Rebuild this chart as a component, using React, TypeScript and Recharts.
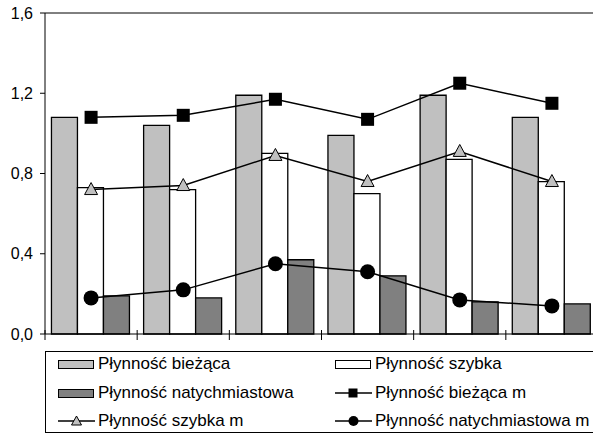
import React from 'react';
import { ComposedChart, Bar, Line, XAxis, YAxis, Legend, ReferenceLine } from 'recharts';

// ---- data ----
const categories = ['1', '2', '3', '4', '5', '6'];
const biezaca = [1.08, 1.04, 1.19, 0.99, 1.19, 1.08];
const szybka = [0.73, 0.72, 0.9, 0.7, 0.87, 0.76];
const natychmiastowa = [0.19, 0.18, 0.37, 0.29, 0.16, 0.15];
const biezacaM = [1.08, 1.09, 1.17, 1.07, 1.25, 1.15];
const szybkaM = [0.72, 0.74, 0.89, 0.76, 0.91, 0.76];
const natychmiastowaM = [0.18, 0.22, 0.35, 0.31, 0.17, 0.14];
const yTicks = [0, 0.4, 0.8, 1.2, 1.6];
const legendOrder = ['b', 's', 'n', 'bm', 'sm', 'nm'];

const data = categories.map((c, i) => ({
  name: c,
  b: biezaca[i],
  s: szybka[i],
  n: natychmiastowa[i],
  bm: biezacaM[i],
  sm: szybkaM[i],
  nm: natychmiastowaM[i],
}));

const FONT = '"Liberation Sans", Arial, sans-serif';
const LIGHT = '#C0C0C0';
const DARK = '#808080';

const CHART_W = 600;
const CHART_H = 435;
const MARGIN = { top: 13, right: 2, bottom: 2, left: 0 };
const Y_W = 45;
const BAND = (CHART_W - MARGIN.left - MARGIN.right - Y_W) / categories.length;

const fmt = (v: number) => v.toFixed(1).replace('.', ',');

const BoundaryTick = (props: any) => {
  const { x, y, payload } = props;
  const half = payload && typeof payload.offset === 'number' && payload.offset > 0 ? payload.offset : BAND / 2;
  const bx = x - half;
  return <line x1={bx} x2={bx} y1={y - 4} y2={y + 6} stroke="#000" strokeWidth={1} />;
};

const SquareDot = (props: any) => {
  const { cx, cy, index } = props;
  if (cx == null || cy == null) return <g key={`sq-${index}`} />;
  return <rect key={`sq-${index}`} x={cx - 6.5} y={cy - 6.5} width={13} height={13} fill="#000" />;
};
const TriangleDot = (props: any) => {
  const { cx, cy, index } = props;
  if (cx == null || cy == null) return <g key={`tr-${index}`} />;
  const pts = `${cx},${cy - 7} ${cx - 6.5},${cy + 5} ${cx + 6.5},${cy + 5}`;
  return <polygon key={`tr-${index}`} points={pts} fill={LIGHT} stroke="#000" strokeWidth={1} />;
};
const CircleDot = (props: any) => {
  const { cx, cy, index } = props;
  if (cx == null || cy == null) return <g key={`ci-${index}`} />;
  return <circle key={`ci-${index}`} cx={cx} cy={cy} r={7.5} fill="#000" />;
};

const LegendIcon = ({ kind }: { kind: string }) => {
  if (kind === 'b' || kind === 's' || kind === 'n') {
    const fill = kind === 'b' ? LIGHT : kind === 's' ? '#FFFFFF' : DARK;
    return (
      <svg width={37} height={12} style={{ display: 'block' }}>
        <rect x={0.5} y={2.5} width={35} height={8} fill={fill} stroke="#000" strokeWidth={1} />
      </svg>
    );
  }
  return (
    <svg width={37} height={14} style={{ display: 'block' }}>
      <line x1={0} x2={37} y1={7} y2={7} stroke="#000" strokeWidth={1.3} />
      {kind === 'bm' && <rect x={13.5} y={2.5} width={9} height={9} fill="#000" />}
      {kind === 'sm' && <polygon points="18.5,2 13.5,11 23.5,11" fill={LIGHT} stroke="#000" strokeWidth={1} />}
      {kind === 'nm' && <circle cx={18.5} cy={7} r={5} fill="#000" />}
    </svg>
  );
};

const ROW_CENTERS = [12, 41, 69];
const COL_LEFTS = [12, 289];

const renderLegend = (props: any) => {
  const payload = [...(props.payload || [])].sort(
    (a: any, b: any) => legendOrder.indexOf(a.dataKey) - legendOrder.indexOf(b.dataKey)
  );
  return (
    <div
      style={{
        position: 'relative',
        height: 82,
        boxSizing: 'border-box',
        border: '1px solid #000',
        background: '#fff',
        fontFamily: FONT,
        fontSize: 17,
        color: '#000',
      }}
    >
      {payload.map((entry: any, i: number) => {
        const row = Math.floor(i / 2);
        const col = i % 2;
        return (
          <div
            key={`leg-${i}`}
            style={{
              position: 'absolute',
              left: COL_LEFTS[col],
              top: ROW_CENTERS[row] - 10,
              height: 20,
              display: 'flex',
              alignItems: 'center',
              whiteSpace: 'nowrap',
            }}
          >
            <LegendIcon kind={entry.dataKey} />
            <span style={{ marginLeft: 3, lineHeight: '20px' }}>{entry.value}</span>
          </div>
        );
      })}
    </div>
  );
};

export default function App() {
  return (
    <div
      style={{
        position: 'absolute',
        left: 0,
        top: 0,
        width: 593,
        height: 435,
        overflow: 'hidden',
        background: '#fff',
      }}
    >
      <ComposedChart
        width={CHART_W}
        height={CHART_H}
        data={data}
        margin={MARGIN}
        barCategoryGap="7%"
        barGap={0}
      >
        <XAxis
          dataKey="name"
          height={17}
          axisLine={{ stroke: '#000', strokeWidth: 1 }}
          tickLine={false}
          tickSize={0}
          tickMargin={0}
          interval={0}
          tick={<BoundaryTick />}
        />
        <YAxis
          width={Y_W}
          domain={[0, 1.6]}
          ticks={yTicks}
          tickFormatter={fmt}
          axisLine={{ stroke: '#000', strokeWidth: 1 }}
          tickLine={{ stroke: '#000', strokeWidth: 1 }}
          tickSize={5}
          tickMargin={7}
          tick={{ fill: '#000', fontSize: 16, fontFamily: FONT }}
          interval={0}
        />
        <ReferenceLine y={1.6} stroke="#000" strokeWidth={1} />
        <Bar dataKey="b" name="Płynność bieżąca" fill={LIGHT} stroke="#000" strokeWidth={1.3} isAnimationActive={false} />
        <Bar dataKey="s" name="Płynność szybka" fill="#FFFFFF" stroke="#000" strokeWidth={1.3} isAnimationActive={false} />
        <Bar dataKey="n" name="Płynność natychmiastowa" fill={DARK} stroke="#000" strokeWidth={1.3} isAnimationActive={false} />
        <Line dataKey="bm" name="Płynność bieżąca m" stroke="#000" strokeWidth={1.5} dot={SquareDot} activeDot={false} isAnimationActive={false} />
        <Line dataKey="sm" name="Płynność szybka m" stroke="#000" strokeWidth={1.5} dot={TriangleDot} activeDot={false} isAnimationActive={false} />
        <Line dataKey="nm" name="Płynność natychmiastowa m" stroke="#000" strokeWidth={1.5} dot={CircleDot} activeDot={false} isAnimationActive={false} />
        <Legend
          verticalAlign="bottom"
          content={renderLegend}
          wrapperStyle={{ left: 45, width: 560 }}
        />
      </ComposedChart>
    </div>
  );
}
